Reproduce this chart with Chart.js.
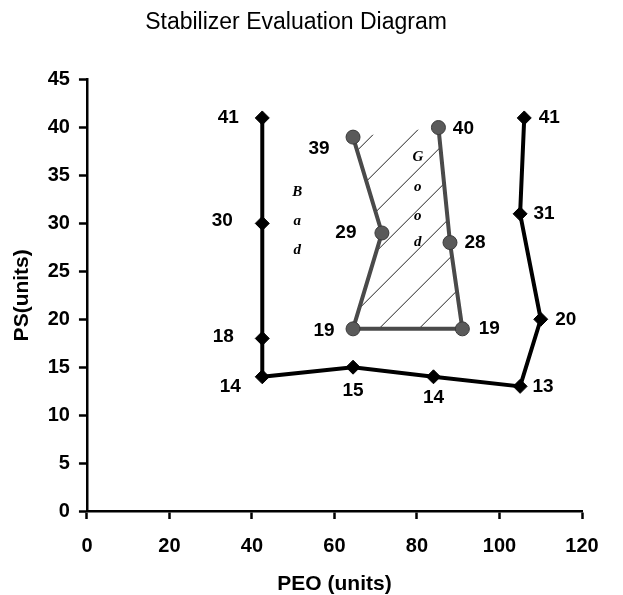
<!DOCTYPE html>
<html lang="en">
<head>
    <meta charset="UTF-8">
    <title>Stabilizer Evaluation Diagram</title>
    <script src="https://cdn.jsdelivr.net/npm/chart.js"></script>
    <style>
        body { margin: 0; background: #fff; }
        canvas { display: block; }
    </style>
</head>
<body>
    <canvas id="stabChart" width="623" height="595"></canvas>
    <script>
        // Outer boundary (diamonds): left side, bottom, right side
        const peoOuter = [42.5, 42.5, 42.5, 42.5, 64.5, 84, 105, 110, 105, 106];
        const psOuter  = [41, 30, 18, 14, 15, 14, 13, 20, 31, 41];

        // Inner "good" region (circles)
        const peoInner = [64.5, 71.5, 64.5, 91, 88, 85.2];
        const psInner  = [39, 29, 19, 19, 28, 40];

        // Axis ticks
        const xTicks = [0, 20, 40, 60, 80, 100, 120];
        const yTicks = [0, 5, 10, 15, 20, 25, 30, 35, 40, 45];

        // Region words, one letter per line (data coords)
        const badLetters  = ['B', 'a', 'd'];
        const badX = 51;
        const badY = [33.3, 30.2, 27.2];
        const goodLetters = ['G', 'o', 'o', 'd'];
        const goodX = 80.2;
        const goodY = [36.9, 33.8, 30.8, 28.0];

        // label offsets (px) from each point
        const outerLabelOff = [[-34, 0], [-40, -3], [-39, -2], [-32, 10], [0, 24], [0, 21], [23, 0], [25, 0], [24, 0], [25, 0]];
        const innerLabelOff = [[-34, 12], [-36, 0], [-29, 2], [27, 0], [25, 0], [25, 1]];

        function toPoints(xs, ys) {
            return xs.map((x, i) => ({ x: x, y: ys[i] }));
        }

        // diagonal hatch pattern for the inner region
        function makeHatch() {
            const c = document.createElement('canvas');
            c.width = 40; c.height = 40;
            const g = c.getContext('2d');
            g.strokeStyle = '#222';
            g.lineWidth = 1;
            g.beginPath();
            g.moveTo(-2, 29.7); g.lineTo(29.7, -2);
            g.moveTo(25.7, 42); g.lineTo(42, 25.7);
            g.stroke();
            return g.createPattern(c, 'repeat');
        }

        const pointLabels = {
            id: 'pointLabels',
            afterDatasetsDraw(chart) {
                const ctx = chart.ctx;
                ctx.save();
                ctx.font = 'bold 19px "Liberation Sans", Arial, sans-serif';
                ctx.fillStyle = '#000';
                ctx.textAlign = 'center';
                ctx.textBaseline = 'middle';
                const offs = [outerLabelOff, innerLabelOff];
                chart.data.datasets.forEach((ds, di) => {
                    const meta = chart.getDatasetMeta(di);
                    meta.data.forEach((el, i) => {
                        const o = offs[di][i];
                        ctx.fillText(String(ds.data[i].y), el.x + o[0], el.y + o[1]);
                    });
                });
                // Bad / Good words
                const xs = chart.scales.x, ys = chart.scales.y;
                ctx.font = 'bold italic 15px "Liberation Serif", "DejaVu Serif", serif';
                badLetters.forEach((t, i) => {
                    ctx.fillText(t, xs.getPixelForValue(badX), ys.getPixelForValue(badY[i]));
                });
                goodLetters.forEach((t, i) => {
                    ctx.fillText(t, xs.getPixelForValue(goodX), ys.getPixelForValue(goodY[i]));
                });
                ctx.restore();
            }
        };

        const tickFont = { family: '"Liberation Sans", Arial, sans-serif', size: 20, weight: 'bold' };

        new Chart(document.getElementById('stabChart').getContext('2d'), {
            type: 'scatter',
            data: {
                datasets: [{
                    data: toPoints(peoOuter, psOuter),
                    showLine: true,
                    borderColor: '#000',
                    borderWidth: 4,
                    pointStyle: 'rectRot',
                    pointRadius: 7,
                    pointBackgroundColor: '#000',
                    pointBorderColor: '#000',
                    pointBorderWidth: 1,
                    fill: false,
                    tension: 0
                }, {
                    data: toPoints(peoInner, psInner),
                    showLine: true,
                    borderColor: '#4a4a4a',
                    borderWidth: 4,
                    backgroundColor: makeHatch(),
                    fill: 'shape',
                    pointStyle: 'circle',
                    pointRadius: 7,
                    pointBackgroundColor: '#5a5a5a',
                    pointBorderColor: '#3a3a3a',
                    pointBorderWidth: 1,
                    tension: 0
                }]
            },
            options: {
                responsive: false,
                animation: false,
                layout: { padding: { left: 10, right: 41, top: 0, bottom: 0 } },
                plugins: {
                    legend: { display: false },
                    tooltip: { enabled: false },
                    title: {
                        display: true,
                        text: 'Stabilizer Evaluation Diagram',
                        color: '#000',
                        font: { family: '"Liberation Sans", Arial, sans-serif', size: 23, weight: 'normal', lineHeight: 1.2 },
                        padding: { top: 9, bottom: 43 }
                    }
                },
                scales: {
                    x: {
                        type: 'linear',
                        min: 0, max: 120,
                        afterBuildTicks: (s) => { s.ticks = xTicks.map(v => ({ value: v })); },
                        grid: { drawOnChartArea: false, drawTicks: true, tickLength: 8, tickColor: '#000', tickWidth: 2.5 },
                        border: { display: true, color: '#000', width: 2.5 },
                        ticks: { color: '#000', font: tickFont, padding: 15, maxRotation: 0 },
                        title: {
                            display: true,
                            text: 'PEO (units)',
                            color: '#000',
                            font: { family: '"Liberation Sans", Arial, sans-serif', size: 21, weight: 'bold', lineHeight: 1 },
                            padding: { top: 1, bottom: 0 }
                        }
                    },
                    y: {
                        type: 'linear',
                        min: 0, max: 45,
                        afterBuildTicks: (s) => { s.ticks = yTicks.map(v => ({ value: v })); },
                        grid: { drawOnChartArea: false, drawTicks: true, tickLength: 8, tickColor: '#000', tickWidth: 2.5 },
                        border: { display: true, color: '#000', width: 2.5 },
                        ticks: { color: '#000', font: tickFont, padding: 9 },
                        title: {
                            display: true,
                            text: 'PS(units)',
                            color: '#000',
                            font: { family: '"Liberation Sans", Arial, sans-serif', size: 21, weight: 'bold', lineHeight: 1.2 },
                            padding: { top: 0, bottom: 3.5 }
                        }
                    }
                }
            },
            plugins: [pointLabels]
        });
    </script>
</body>
</html>
